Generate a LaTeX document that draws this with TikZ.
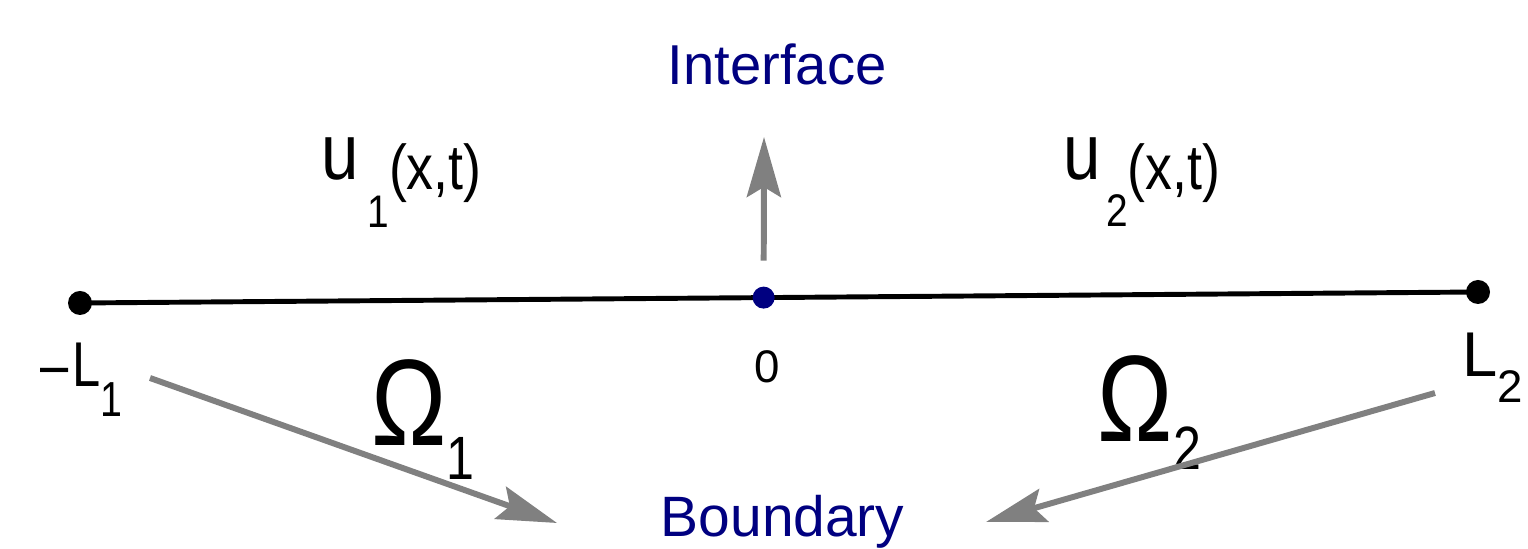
\documentclass[tikz,border=0pt]{standalone}
\usepackage{fontspec}
\setmainfont{Liberation Sans}
\definecolor{LabelNavy}{RGB}{0,0,128}
\definecolor{ArrowGray}{RGB}{128,128,128}
\usetikzlibrary{arrows.meta, calc}

\begin{document}
\begin{tikzpicture}[
    garrow/.style={ArrowGray, line width=1.7pt, -{Stealth[length=6mm, width=3.4mm, inset=1mm]}},
    enddot/.style={circle, fill=black, inner sep=0pt, minimum size=2.4mm},
    lbl/.style={inner sep=0pt, anchor=base west}
  ]
  \useasboundingbox (0,0) rectangle (15.28,5.49);

  \node[enddot] (left) at (0.80,2.46) {};
  \node[enddot] (right) at (14.78,2.57) {};
  \draw[line width=1.4pt] (left.center) -- (right.center);
  \node[enddot, fill=LabelNavy, minimum size=2.2mm] (mid) at ($(left)!0.489!(right)$) {};

  \node[lbl, LabelNavy, font=\fontsize{16}{19}\selectfont] (iface) at (6.67,4.64) {Interface};
  \node[lbl, LabelNavy, font=\fontsize{16.2}{19}\selectfont] (bound) at (6.60,0.12) {Boundary};
  \node[inner sep=0pt, anchor=base, font=\fontsize{13}{15}\selectfont] (zero) at (7.67,1.66) {0};

  \node[lbl, xscale=0.85] (uone) at (3.21,3.69)
    {{\fontsize{22.5}{24}\selectfont u}\hspace{0.1cm}\raisebox{-0.48cm}{\fontsize{13}{15}\selectfont 1}\raisebox{-0.1cm}{\fontsize{18}{20}\selectfont (x,t)}};
  \node[lbl, xscale=0.85] (utwo) at (10.63,3.69)
    {{\fontsize{22.5}{24}\selectfont u}\hspace{0.06cm}\raisebox{-0.47cm}{\fontsize{13}{15}\selectfont 2}\raisebox{-0.1cm}{\fontsize{18}{20}\selectfont (x,t)}};

  \node[lbl, xscale=0.82] (omone) at (3.71,1.03)
    {{\fontsize{35}{38}\selectfont Ω}\raisebox{-0.34cm}{\fontsize{17.4}{20}\selectfont 1}};
  \node[lbl, xscale=0.82] (omtwo) at (10.97,1.07)
    {{\fontsize{35}{38}\selectfont Ω}\raisebox{-0.28cm}{\fontsize{17.4}{20}\selectfont 2}};

  \node[lbl, xscale=0.8] (lone) at (0.40,1.62)
    {{\fontsize{18}{20}\selectfont \textendash\hspace{0.05cm}L}\raisebox{-0.30cm}{\fontsize{14}{16}\selectfont 1}};
  \node[lbl] (ltwo) at (14.62,1.72)
    {{\fontsize{18}{20}\selectfont L}\raisebox{-0.26cm}{\fontsize{13}{15}\selectfont 2}};

  \coordinate (itip) at (7.64,4.12);
  \coordinate (lstart) at (1.50,1.71);
  \coordinate (ltip) at (5.57,0.26);
  \coordinate (rstart) at (14.35,1.56);
  \coordinate (rtip) at (9.86,0.27);

  \draw[garrow, shorten <=3.7mm] (mid.center) -- (itip);
  \draw[garrow] (lstart) -- (ltip);
  \draw[garrow] (rstart) -- (rtip);
\end{tikzpicture}
\end{document}
